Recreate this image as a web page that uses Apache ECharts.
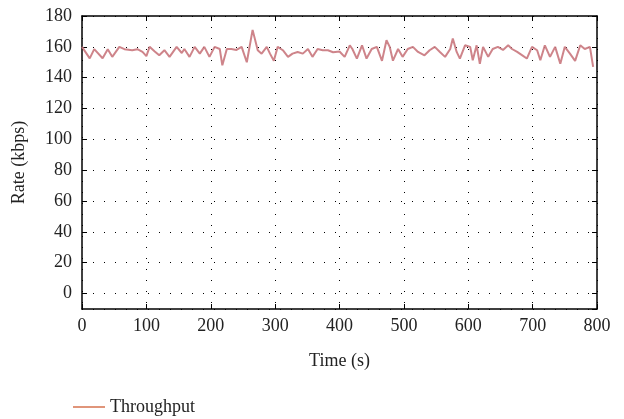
<!DOCTYPE html>
<html><head><meta charset="utf-8">
<script src="https://cdn.jsdelivr.net/npm/echarts@6/dist/echarts.min.js"></script>
<style>html,body{margin:0;padding:0;background:#fff}#c{width:624px;height:419px}</style>
</head><body><div id="c"></div>
<script>
var times = [0,12,19,32,40,47,58,66,78,86,94,100,105,113,120,128,136,147,155,159,167,175,183,190,198,206,214,218,225,232,240,248,256,265,273,279,287,292,298,304,312,320,327,335,343,351,358,366,374,382,390,400,408,416,420,427,435,442,450,458,466,473,478,483,491,498,506,514,522,532,540,548,556,564,572,576,582,587,595,603,607,613,618,623,631,638,646,654,662,668,676,684,691,699,707,712,719,727,735,743,750,758,766,774,781,789,794];
var throughput = [160,152.5,158.5,152.6,158.5,153.5,160,158.5,157.8,158.5,156.7,154,160,157,154.5,157.8,153.5,160,156,158.6,153.5,160,155.6,160,153.5,160,158.6,148,158.6,158.6,158,160,150,171,157.8,155.6,160,155.6,151,160,157.8,153.5,155.6,156.7,155.6,158.6,153.5,158.6,157.8,157.8,156.5,157,153.5,161,158.6,152.4,161,152.4,158.6,160,150.9,164.3,160,151,158.6,153.5,158.6,160,156.7,154.5,157.8,160,156.7,153.5,158.6,165.4,156.7,152.4,161,160,151.3,161,149,160,153.5,158.6,160,158,161,158.6,156.7,154.5,152.4,160,157.8,151.3,161,153.5,160,149,160,155.6,150.9,161,158.6,160,147];
var seriesName = 'Throughput';
var xTitle = 'Time (s)';
var yTitle = 'Rate (kbps)';

var pts = times.map(function(t,i){return [t, throughput[i]];});
var font = '"Liberation Serif", "DejaVu Serif", serif';
var fs = 18;
var dotted = {color:'#000', width:1, type:[1,10]};
var chart = echarts.init(document.getElementById('c'), null, {renderer:'canvas'});
chart.setOption({
  animation:false,
  backgroundColor:'#fff',
  textStyle:{fontFamily:font},
  grid:{left:82, right:27, top:16, bottom:110, containLabel:false},
  legend:{left:68, top:393, itemWidth:32, itemHeight:2, itemGap:10,
    icon:'rect',
    textStyle:{fontFamily:font, fontSize:fs, color:'#222'},
    data:[{name:seriesName, itemStyle:{color:'#e0957a'}}]},
  xAxis:[{type:'value', min:0, max:800, interval:100, position:'bottom',
    name:xTitle, nameLocation:'middle', nameGap:43,
    nameTextStyle:{fontFamily:font, fontSize:fs, color:'#222'},
    axisLine:{show:true, onZero:false, lineStyle:{color:'#000', width:1.5}},
    axisTick:{show:true, inside:true, length:5, lineStyle:{color:'#000'}},
    axisLabel:{fontFamily:font, fontSize:fs, color:'#222', margin:8},
    splitLine:{show:true, lineStyle:dotted}},
   {type:'value', min:0, max:800, interval:100, position:'top',
    axisLine:{show:true, onZero:false, lineStyle:{color:'#000', width:1.5}},
    axisTick:{show:true, inside:true, length:5, lineStyle:{color:'#000'}},
    axisLabel:{show:false}, splitLine:{show:false}}],
  yAxis:[{type:'value', min:-10, max:180, splitNumber:9, position:'left',
    name:yTitle, nameLocation:'middle', nameGap:54,
    nameTextStyle:{fontFamily:font, fontSize:fs, color:'#222'},
    axisLine:{show:true, onZero:false, lineStyle:{color:'#000', width:1.5}},
    axisTick:{show:true, inside:true, length:5, lineStyle:{color:'#000'}},
    axisLabel:{fontFamily:font, fontSize:fs, color:'#222', margin:10, showMinLabel:false},
    splitLine:{show:true, lineStyle:dotted}},
   {type:'value', min:-10, max:180, splitNumber:9, position:'right',
    axisLine:{show:true, onZero:false, lineStyle:{color:'#000', width:1.5}},
    axisTick:{show:true, inside:true, length:5, lineStyle:{color:'#000'}},
    axisLabel:{show:false}, splitLine:{show:false}}],
  series:[{name:seriesName, type:'line', data:pts, xAxisIndex:0, yAxisIndex:0,
    showSymbol:false, symbol:'none',
    lineStyle:{color:'#c9777d', width:2, opacity:0.9},
    itemStyle:{color:'#c9777d'}}]
});
</script></body></html>
